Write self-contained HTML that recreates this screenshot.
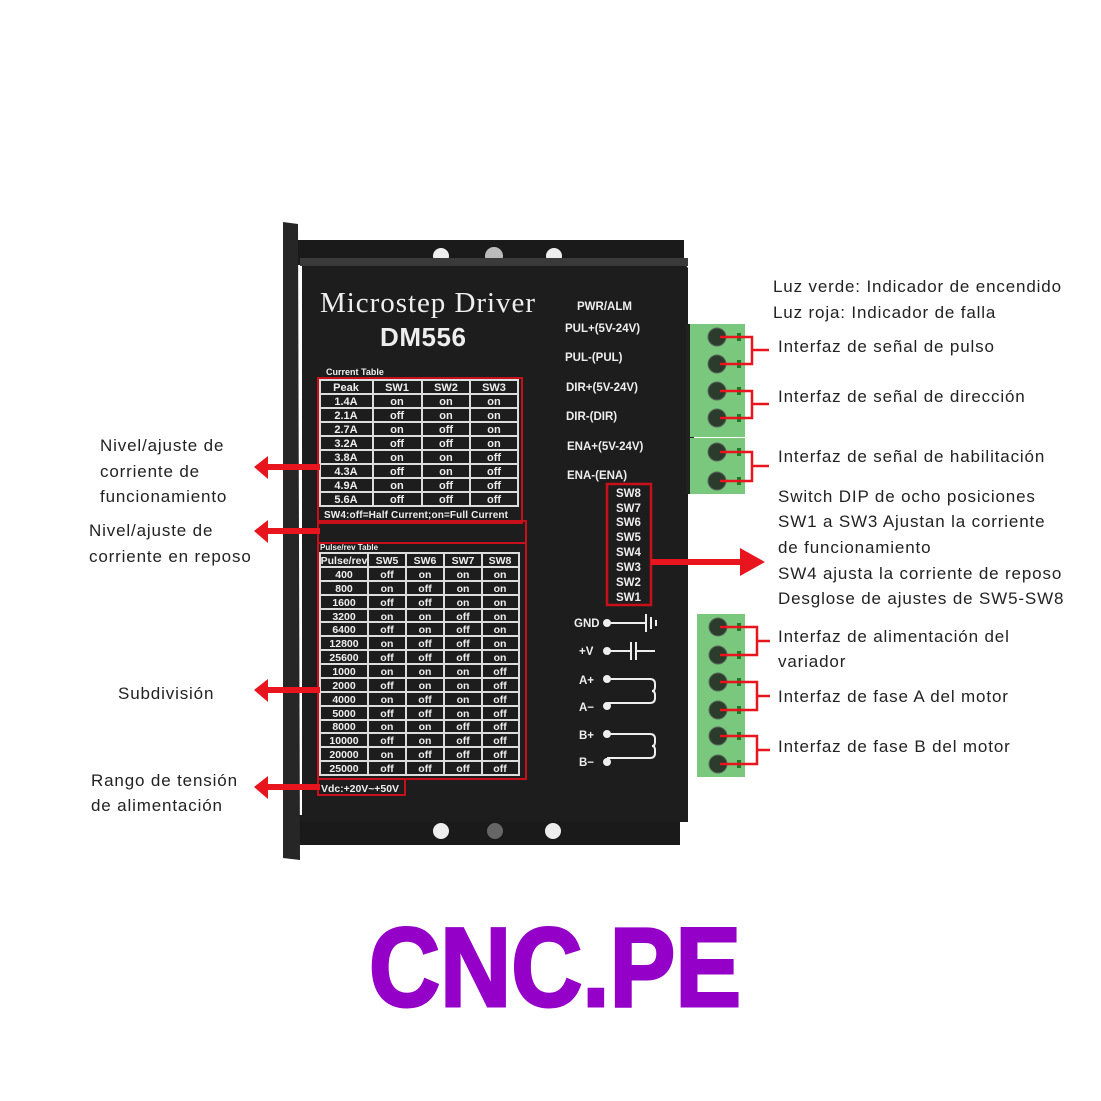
<!DOCTYPE html>
<html><head><meta charset="utf-8"><style>
html,body{margin:0;padding:0;background:#fff;}
svg{display:block;}
.lab{font-family:"Liberation Sans",sans-serif;font-size:17px;fill:#222;letter-spacing:0.85px;}
.w{font-family:"Liberation Sans",sans-serif;font-weight:bold;fill:#eee;}
</style></head><body>
<svg width="1101" height="1101" viewBox="0 0 1101 1101" xmlns="http://www.w3.org/2000/svg">
<rect x="296" y="240" width="388" height="25" fill="#1a1a1a"/>
<circle cx="441" cy="256" r="8" fill="#eee"/><circle cx="494" cy="256" r="9" fill="#bbb"/><circle cx="554" cy="256" r="8" fill="#eee"/>
<rect x="296" y="815" width="384" height="30" fill="#1a1a1a"/>
<circle cx="441" cy="831" r="8" fill="#eee"/><circle cx="495" cy="831" r="8" fill="#666"/><circle cx="553" cy="831" r="8" fill="#eee"/>
<polygon points="283,222 298,224 300,860 283,858" fill="#262626"/>
<polygon points="302,262 680,258 688,268 688,822 302,822" fill="#1d1d1d"/>
<rect x="300" y="258" width="388" height="8" fill="#3a3a3a"/>
<text x="320" y="312" font-family="Liberation Serif,serif" font-size="29" fill="#eee" textLength="215">Microstep  Driver</text>
<text x="380" y="346" class="w" font-size="26" textLength="86">DM556</text>
<text x="326" y="375" class="w" font-size="9" fill="#ddd">Current Table</text>
<rect x="318" y="378" width="204" height="145" fill="none" stroke="#c8101a" stroke-width="2"/>
<rect x="318" y="521" width="208" height="22" fill="none" stroke="#c8101a" stroke-width="2"/>
<g stroke="#ddd" stroke-width="2" fill="none">
<rect x="320" y="380" width="198" height="126"/>
<path d="M373 380V506M422 380V506M470 380V506M320 394H518M320 408H518M320 422H518M320 436H518M320 450H518M320 464H518M320 478H518M320 492H518"/>
</g>
<g class="w" font-size="11" text-anchor="middle">
<text x="346" y="391">Peak</text><text x="397" y="391">SW1</text><text x="446" y="391">SW2</text><text x="494" y="391">SW3</text>
<text x="346" y="405">1.4A</text><text x="397" y="405">on</text><text x="446" y="405">on</text><text x="494" y="405">on</text>
<text x="346" y="419">2.1A</text><text x="397" y="419">off</text><text x="446" y="419">on</text><text x="494" y="419">on</text>
<text x="346" y="433">2.7A</text><text x="397" y="433">on</text><text x="446" y="433">off</text><text x="494" y="433">on</text>
<text x="346" y="447">3.2A</text><text x="397" y="447">off</text><text x="446" y="447">off</text><text x="494" y="447">on</text>
<text x="346" y="461">3.8A</text><text x="397" y="461">on</text><text x="446" y="461">on</text><text x="494" y="461">off</text>
<text x="346" y="475">4.3A</text><text x="397" y="475">off</text><text x="446" y="475">on</text><text x="494" y="475">off</text>
<text x="346" y="489">4.9A</text><text x="397" y="489">on</text><text x="446" y="489">off</text><text x="494" y="489">off</text>
<text x="346" y="503">5.6A</text><text x="397" y="503">off</text><text x="446" y="503">off</text><text x="494" y="503">off</text>
</g>
<text x="324" y="518" class="w" font-size="10" textLength="184">SW4:off=Half Current;on=Full Current</text>
<rect x="318" y="543" width="208" height="236" fill="none" stroke="#c8101a" stroke-width="2"/>
<text x="320" y="550" class="w" font-size="8" fill="#bbb">Pulse/rev Table</text>
<g stroke="#ddd" stroke-width="2" fill="none">
<rect x="320" y="553" width="199" height="222"/>
<path d="M368 553V775M406 553V775M444 553V775M482 553V775
M320 567H519M320 581H519M320 595H519M320 609H519M320 622H519M320 636H519M320 650H519M320 664H519M320 678H519M320 692H519M320 706H519M320 720H519M320 733H519M320 747H519M320 761H519"/>
</g>
<g class="w" font-size="10.5" text-anchor="middle">
<text x="344" y="564">Pulse/rev</text><text x="387" y="564">SW5</text><text x="425" y="564">SW6</text><text x="463" y="564">SW7</text><text x="500" y="564">SW8</text>
<text x="344" y="578">400</text><text x="387" y="578">off</text><text x="425" y="578">on</text><text x="463" y="578">on</text><text x="500" y="578">on</text>
<text x="344" y="592">800</text><text x="387" y="592">on</text><text x="425" y="592">off</text><text x="463" y="592">on</text><text x="500" y="592">on</text>
<text x="344" y="606">1600</text><text x="387" y="606">off</text><text x="425" y="606">off</text><text x="463" y="606">on</text><text x="500" y="606">on</text>
<text x="344" y="620">3200</text><text x="387" y="620">on</text><text x="425" y="620">on</text><text x="463" y="620">off</text><text x="500" y="620">on</text>
<text x="344" y="633">6400</text><text x="387" y="633">off</text><text x="425" y="633">on</text><text x="463" y="633">off</text><text x="500" y="633">on</text>
<text x="344" y="647">12800</text><text x="387" y="647">on</text><text x="425" y="647">off</text><text x="463" y="647">off</text><text x="500" y="647">on</text>
<text x="344" y="661">25600</text><text x="387" y="661">off</text><text x="425" y="661">off</text><text x="463" y="661">off</text><text x="500" y="661">on</text>
<text x="344" y="675">1000</text><text x="387" y="675">on</text><text x="425" y="675">on</text><text x="463" y="675">on</text><text x="500" y="675">off</text>
<text x="344" y="689">2000</text><text x="387" y="689">off</text><text x="425" y="689">on</text><text x="463" y="689">on</text><text x="500" y="689">off</text>
<text x="344" y="703">4000</text><text x="387" y="703">on</text><text x="425" y="703">off</text><text x="463" y="703">on</text><text x="500" y="703">off</text>
<text x="344" y="717">5000</text><text x="387" y="717">off</text><text x="425" y="717">off</text><text x="463" y="717">on</text><text x="500" y="717">off</text>
<text x="344" y="730">8000</text><text x="387" y="730">on</text><text x="425" y="730">on</text><text x="463" y="730">off</text><text x="500" y="730">off</text>
<text x="344" y="744">10000</text><text x="387" y="744">off</text><text x="425" y="744">on</text><text x="463" y="744">off</text><text x="500" y="744">off</text>
<text x="344" y="758">20000</text><text x="387" y="758">on</text><text x="425" y="758">off</text><text x="463" y="758">off</text><text x="500" y="758">off</text>
<text x="344" y="772">25000</text><text x="387" y="772">off</text><text x="425" y="772">off</text><text x="463" y="772">off</text><text x="500" y="772">off</text>
</g>
<rect x="318" y="779" width="87" height="16" fill="none" stroke="#c8101a" stroke-width="2"/>
<text x="321" y="792" class="w" font-size="10.5" textLength="78">Vdc:+20V~+50V</text>
<g class="w" font-size="11.5">
<text x="577" y="310">PWR/ALM</text>
<text x="565" y="332">PUL+(5V-24V)</text>
<text x="565" y="361">PUL-(PUL)</text>
<text x="566" y="391">DIR+(5V-24V)</text>
<text x="566" y="420">DIR-(DIR)</text>
<text x="567" y="450">ENA+(5V-24V)</text>
<text x="567" y="479">ENA-(ENA)</text>
</g>
<rect x="607" y="484" width="44" height="121" fill="none" stroke="#c8101a" stroke-width="2.5"/>
<g class="w" font-size="11.5">
<text x="616" y="497">SW8</text><text x="616" y="512">SW7</text><text x="616" y="526">SW6</text><text x="616" y="541">SW5</text><text x="616" y="556">SW4</text><text x="616" y="571">SW3</text><text x="616" y="586">SW2</text><text x="616" y="601">SW1</text>
</g>
<g class="w" font-size="11.5"><text x="574" y="627">GND</text><text x="579" y="655">+V</text><text x="579" y="684">A+</text><text x="579" y="711">A−</text><text x="579" y="739">B+</text><text x="579" y="766">B−</text></g>
<g stroke="#eee" stroke-width="2" fill="#eee">
<circle cx="607" cy="623" r="3"/><path d="M607 623H646M646 614V632M651 617V629M656 620V626"/>
<circle cx="607" cy="651" r="3"/><path d="M607 651H631M631 642V660M636 642V660M636 651H655" />
<circle cx="607" cy="679" r="3"/><circle cx="607" cy="706" r="3"/><path fill="none" d="M607 679H650q5 0 5 5v3q0 4-3 4q3 0 3 4v3q0 5-5 5H607"/>
<circle cx="607" cy="734" r="3"/><circle cx="607" cy="762" r="3"/><path fill="none" d="M607 734H650q5 0 5 5v3q0 4-3 4q3 0 3 4v3q0 5-5 5H607"/>
</g>
<rect x="686" y="324" width="8" height="170" fill="#222"/>
<rect x="690" y="324" width="55" height="113" fill="#7ac77e"/>
<rect x="690" y="438" width="55" height="56" fill="#7ac77e"/>
<rect x="697" y="614" width="48" height="163" fill="#7ac77e"/>
<g fill="#2b3b2c" stroke="#5a6a5b" stroke-width="1">
<circle cx="717" cy="337" r="9"/><circle cx="717" cy="364" r="9"/><circle cx="717" cy="391" r="9"/><circle cx="717" cy="418" r="9"/><circle cx="717" cy="452" r="9"/><circle cx="717" cy="481" r="9"/>
<circle cx="718" cy="627" r="9"/><circle cx="718" cy="655" r="9"/><circle cx="718" cy="682" r="9"/><circle cx="718" cy="710" r="9"/><circle cx="718" cy="736" r="9"/><circle cx="718" cy="764" r="9"/>
</g>
<g fill="#1e7a2a"><rect x="737" y="333" width="4" height="8"/><rect x="737" y="360" width="4" height="8"/><rect x="737" y="387" width="4" height="8"/><rect x="737" y="414" width="4" height="8"/><rect x="737" y="448" width="4" height="8"/><rect x="737" y="477" width="4" height="8"/>
<rect x="737" y="623" width="4" height="8"/><rect x="737" y="651" width="4" height="8"/><rect x="737" y="678" width="4" height="8"/><rect x="737" y="706" width="4" height="8"/><rect x="737" y="732" width="4" height="8"/><rect x="737" y="760" width="4" height="8"/></g>
<g stroke="#e8141e" stroke-width="2.5" fill="none">
<path d="M720 337H752V364H720M752 350H769"/>
<path d="M720 391H752V418H720M752 404H769"/>
<path d="M720 452H752V481H720M752 466H769"/>
<path d="M720 627H757V655H720M757 641H770"/>
<path d="M720 682H757V710H720M757 696H770"/>
<path d="M720 736H757V764H720M757 750H770"/>
</g>
<g fill="#e8141e">
<rect x="651" y="559" width="96" height="6"/><polygon points="740,548 765,562 740,576"/>
<rect x="265" y="464" width="55" height="6"/><polygon points="254,467 268,456 268,479"/>
<rect x="265" y="528" width="55" height="6"/><polygon points="254,531 268,520 268,543"/>
<rect x="265" y="687" width="55" height="6"/><polygon points="254,690 268,679 268,702"/>
<rect x="265" y="784" width="55" height="6"/><polygon points="254,787 268,776 268,799"/>
</g>
<g class="lab">
<text x="773" y="292">Luz verde: Indicador de encendido</text>
<text x="773" y="318">Luz roja: Indicador de falla</text>
<text x="778" y="352">Interfaz de señal de pulso</text>
<text x="778" y="402">Interfaz de señal de dirección</text>
<text x="778" y="462">Interfaz de señal de habilitación</text>
<text x="778" y="502">Switch DIP de ocho posiciones</text>
<text x="778" y="527">SW1 a SW3 Ajustan la corriente</text>
<text x="778" y="553">de funcionamiento</text>
<text x="778" y="579">SW4 ajusta la corriente de reposo</text>
<text x="778" y="604">Desglose de ajustes de SW5-SW8</text>
<text x="778" y="642">Interfaz de alimentación del</text>
<text x="778" y="667">variador</text>
<text x="778" y="702">Interfaz de fase A del motor</text>
<text x="778" y="752">Interfaz de fase B del motor</text>
<text x="100" y="451">Nivel/ajuste de</text>
<text x="100" y="477">corriente de</text>
<text x="100" y="502">funcionamiento</text>
<text x="89" y="536">Nivel/ajuste de</text>
<text x="89" y="562">corriente en reposo</text>
<text x="118" y="699">Subdivisión</text>
<text x="91" y="786">Rango de tensión</text>
<text x="91" y="811">de alimentación</text>
</g>
<text x="369" y="1006" font-family="Liberation Sans,sans-serif" font-weight="bold" font-size="112" fill="#9400c8" stroke="#9400c8" stroke-width="3" textLength="372" lengthAdjust="spacingAndGlyphs">CNC.PE</text>
</svg>
</body></html>
